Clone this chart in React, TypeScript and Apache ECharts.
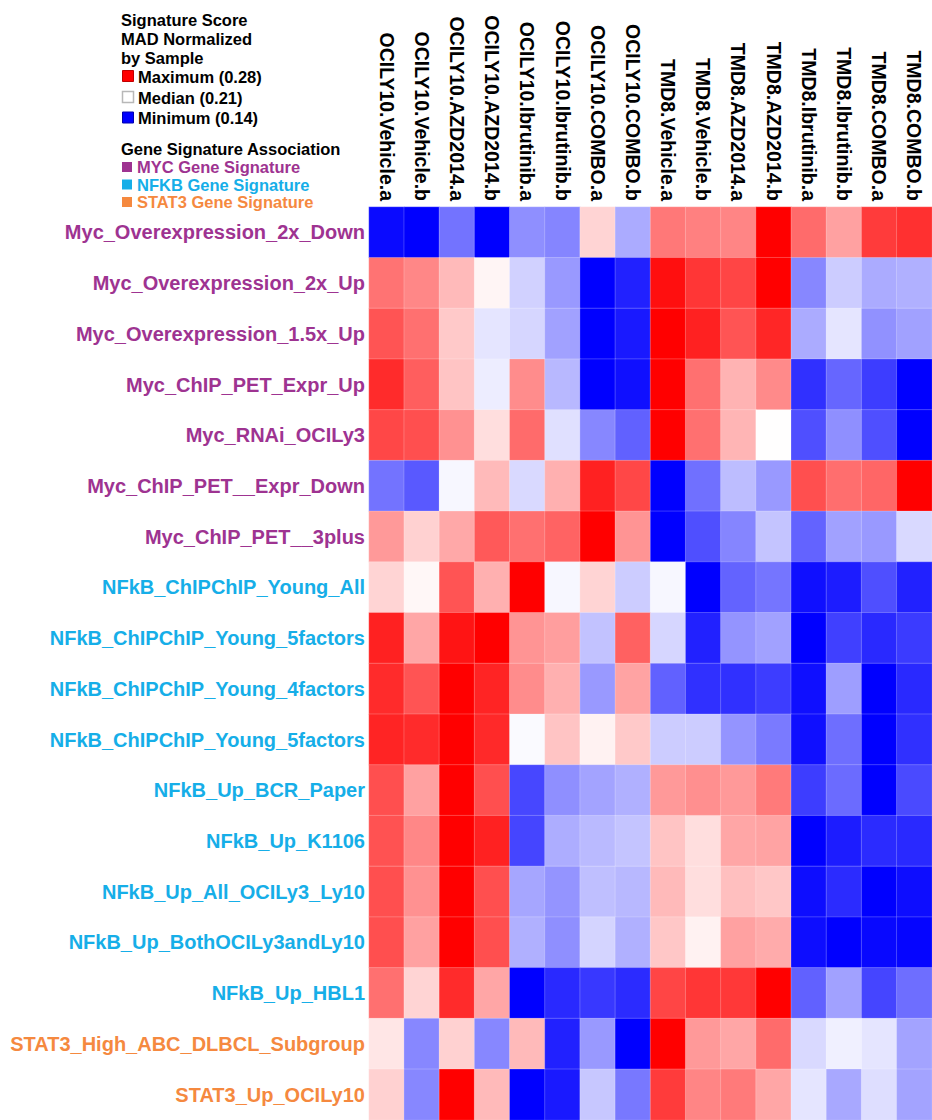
import React, { useEffect, useRef } from 'react';
import * as echarts from 'echarts';

const samples = [
  'OCILY10.Vehicle.a', 'OCILY10.Vehicle.b', 'OCILY10.AZD2014.a', 'OCILY10.AZD2014.b',
  'OCILY10.Ibrutinib.a', 'OCILY10.Ibrutinib.b', 'OCILY10.COMBO.a', 'OCILY10.COMBO.b',
  'TMD8.Vehicle.a', 'TMD8.Vehicle.b', 'TMD8.AZD2014.a', 'TMD8.AZD2014.b',
  'TMD8.Ibrutinib.a', 'TMD8.Ibrutinib.b', 'TMD8.COMBO.a', 'TMD8.COMBO.b',
];

const signatures = [
  'Myc_Overexpression_2x_Down', 'Myc_Overexpression_2x_Up', 'Myc_Overexpression_1.5x_Up',
  'Myc_ChIP_PET_Expr_Up', 'Myc_RNAi_OCILy3', 'Myc_ChIP_PET__Expr_Down', 'Myc_ChIP_PET__3plus',
  'NFkB_ChIPChIP_Young_All', 'NFkB_ChIPChIP_Young_5factors', 'NFkB_ChIPChIP_Young_4factors',
  'NFkB_ChIPChIP_Young_5factors', 'NFkB_Up_BCR_Paper', 'NFkB_Up_K1106', 'NFkB_Up_All_OCILy3_Ly10',
  'NFkB_Up_BothOCILy3andLy10', 'NFkB_Up_HBL1', 'STAT3_High_ABC_DLBCL_Subgroup', 'STAT3_Up_OCILy10',
];

const signatureGroups = [
  'MYC', 'MYC', 'MYC', 'MYC', 'MYC', 'MYC', 'MYC',
  'NFKB', 'NFKB', 'NFKB', 'NFKB', 'NFKB', 'NFKB', 'NFKB', 'NFKB', 'NFKB',
  'STAT3', 'STAT3',
];

const groupNames = ['MYC', 'NFKB', 'STAT3'];
const groupColors = ['#9e3391', '#16aee8', '#f5893f'];
const groupLegendLabels = ['MYC Gene Signature', 'NFKB Gene Signature', 'STAT3 Gene Signature'];

const scoreMin = 0.14;
const scoreMedian = 0.21;
const scoreMax = 0.28;

const mycOver2xDown = [0.1428, 0.14, 0.1715, 0.14, 0.1792, 0.1764, 0.2219, 0.1869, 0.2471, 0.245, 0.2436, 0.28, 0.2506, 0.2359, 0.2639, 0.2667];
const mycOver2xUp = [0.2485, 0.2429, 0.2289, 0.2128, 0.1974, 0.182, 0.14, 0.1491, 0.2758, 0.2653, 0.2611, 0.28, 0.1771, 0.196, 0.1869, 0.1883];
const mycOver15xUp = [0.2569, 0.2492, 0.2247, 0.203, 0.1988, 0.1841, 0.14, 0.147, 0.28, 0.2709, 0.2569, 0.2695, 0.1869, 0.203, 0.1799, 0.1841];
const mycChipExprUp = [0.2681, 0.2541, 0.2261, 0.2051, 0.2415, 0.1904, 0.14, 0.1442, 0.28, 0.2492, 0.231, 0.2422, 0.1533, 0.168, 0.1568, 0.14];
const mycRnaiOciLy3 = [0.2604, 0.2583, 0.2401, 0.2191, 0.2506, 0.2016, 0.1771, 0.1666, 0.28, 0.2492, 0.2303, 0.2104, 0.1617, 0.1792, 0.1617, 0.14];
const mycChipExprDown = [0.1715, 0.1645, 0.2079, 0.2289, 0.1995, 0.2317, 0.2709, 0.2604, 0.14, 0.1708, 0.1918, 0.182, 0.2583, 0.2499, 0.252, 0.28];
const mycChip3plus = [0.238, 0.2226, 0.2338, 0.2555, 0.2492, 0.2527, 0.28, 0.2394, 0.14, 0.1617, 0.1764, 0.1939, 0.1673, 0.1841, 0.182, 0.1995];
const nfkbYoungAll = [0.2219, 0.2121, 0.2569, 0.2317, 0.28, 0.2079, 0.2219, 0.196, 0.2079, 0.14, 0.1673, 0.1722, 0.1442, 0.1477, 0.1617, 0.1491];
const nfkbYoung5factorsA = [0.2709, 0.2345, 0.2744, 0.28, 0.2394, 0.2366, 0.1932, 0.2534, 0.1988, 0.1491, 0.1806, 0.1841, 0.14, 0.1575, 0.1512, 0.1561];
const nfkbYoung4factors = [0.2681, 0.2569, 0.28, 0.2702, 0.2415, 0.2317, 0.182, 0.2352, 0.1666, 0.1533, 0.1533, 0.1568, 0.1442, 0.1834, 0.14, 0.1512];
const nfkbYoung5factorsB = [0.2702, 0.2681, 0.28, 0.2688, 0.2086, 0.2261, 0.2135, 0.2247, 0.196, 0.196, 0.1806, 0.1736, 0.1442, 0.1701, 0.14, 0.1533];
const nfkbUpBcrPaper = [0.2583, 0.2359, 0.28, 0.2583, 0.1596, 0.1792, 0.1848, 0.1883, 0.238, 0.2408, 0.238, 0.2464, 0.1568, 0.1694, 0.14, 0.1603];
const nfkbUpK1106 = [0.2576, 0.2429, 0.28, 0.2709, 0.1589, 0.1876, 0.1911, 0.1939, 0.2261, 0.2191, 0.2345, 0.2352, 0.14, 0.1477, 0.1519, 0.1512];
const nfkbUpAllOciLy3Ly10 = [0.2583, 0.2401, 0.28, 0.2583, 0.1855, 0.1806, 0.1925, 0.1904, 0.2289, 0.2191, 0.2275, 0.2254, 0.1435, 0.1519, 0.14, 0.1435];
const nfkbUpBoth = [0.2583, 0.2359, 0.28, 0.2583, 0.1883, 0.1792, 0.1981, 0.1883, 0.2254, 0.2135, 0.2359, 0.2331, 0.1435, 0.14, 0.1421, 0.1414];
const nfkbUpHbl1 = [0.2492, 0.2219, 0.2681, 0.2345, 0.14, 0.1512, 0.1554, 0.1519, 0.2611, 0.2653, 0.2646, 0.28, 0.1666, 0.1841, 0.1589, 0.1701];
const stat3HighAbc = [0.217, 0.1771, 0.2226, 0.1771, 0.2289, 0.1491, 0.182, 0.14, 0.28, 0.238, 0.2345, 0.2506, 0.1995, 0.2058, 0.203, 0.1848];
const stat3UpOciLy10 = [0.2226, 0.1771, 0.28, 0.2289, 0.14, 0.147, 0.1946, 0.1729, 0.2639, 0.2436, 0.2464, 0.2345, 0.203, 0.1862, 0.2009, 0.1848];

const scoreRows = [
  mycOver2xDown, mycOver2xUp, mycOver15xUp, mycChipExprUp, mycRnaiOciLy3, mycChipExprDown, mycChip3plus,
  nfkbYoungAll, nfkbYoung5factorsA, nfkbYoung4factors, nfkbYoung5factorsB, nfkbUpBcrPaper, nfkbUpK1106,
  nfkbUpAllOciLy3Ly10, nfkbUpBoth, nfkbUpHbl1, stat3HighAbc, stat3UpOciLy10,
];

const FONT = '"Liberation Sans", Arial, sans-serif';

export default function App() {
  const ref = useRef<HTMLDivElement>(null);

  useEffect(() => {
    if (!ref.current) return;
    const chart = echarts.init(ref.current, undefined, { renderer: 'svg' });

    const data: [number, number, number][] = [];
    scoreRows.forEach((row, r) => row.forEach((v, c) => data.push([c, r, v])));

    const legendFont = `bold 16.5px ${FONT}`;
    const graphics: any[] = [
      { type: 'text', x: 121, y: 20, style: { text: 'Signature Score', font: legendFont, fill: '#000', verticalAlign: 'middle' } },
      { type: 'text', x: 121, y: 39, style: { text: 'MAD Normalized', font: legendFont, fill: '#000', verticalAlign: 'middle' } },
      { type: 'text', x: 121, y: 58, style: { text: 'by Sample', font: legendFont, fill: '#000', verticalAlign: 'middle' } },
      { type: 'rect', shape: { x: 122.5, y: 70.5, width: 11, height: 11 }, style: { fill: '#ff0000', stroke: '#c00000', lineWidth: 1 } },
      { type: 'text', x: 138, y: 77, style: { text: `Maximum (${scoreMax.toFixed(2)})`, font: legendFont, fill: '#000', verticalAlign: 'middle' } },
      { type: 'rect', shape: { x: 122.5, y: 91.5, width: 11, height: 11 }, style: { fill: '#ffffff', stroke: '#b8b8b8', lineWidth: 1.5 } },
      { type: 'text', x: 138, y: 97.5, style: { text: `Median (${scoreMedian.toFixed(2)})`, font: legendFont, fill: '#000', verticalAlign: 'middle' } },
      { type: 'rect', shape: { x: 122.5, y: 112, width: 11, height: 11 }, style: { fill: '#0000ff', stroke: '#0000b0', lineWidth: 1 } },
      { type: 'text', x: 138, y: 118, style: { text: `Minimum (${scoreMin.toFixed(2)})`, font: legendFont, fill: '#000', verticalAlign: 'middle' } },
      { type: 'text', x: 121, y: 148.5, style: { text: 'Gene Signature Association', font: legendFont, fill: '#000', verticalAlign: 'middle' } },
    ];
    groupNames.forEach((g, i) => {
      const yc = 167 + i * 17.5;
      graphics.push({ type: 'rect', shape: { x: 122, y: yc - 5, width: 10, height: 10 }, style: { fill: groupColors[i] } });
      graphics.push({ type: 'text', x: 137, y: yc, style: { text: groupLegendLabels[i], font: legendFont, fill: groupColors[i], verticalAlign: 'middle' } });
    });

    chart.setOption({
      animation: false,
      backgroundColor: '#ffffff',
      grid: { left: 369, top: 207, width: 563, height: 920, containLabel: false },
      xAxis: {
        type: 'category',
        position: 'top',
        data: samples,
        axisLine: { show: false },
        axisTick: { show: false },
        splitLine: { show: false },
        axisLabel: {
          interval: 0,
          rotate: 90,
          margin: 6,
          color: '#000',
          fontSize: 19.5,
          fontWeight: 'bold',
          fontFamily: FONT,
        },
      },
      yAxis: {
        type: 'category',
        inverse: true,
        data: signatures,
        axisLine: { show: false },
        axisTick: { show: false },
        splitLine: { show: false },
        axisLabel: {
          interval: 0,
          margin: 4,
          fontSize: 20,
          fontWeight: 'bold',
          fontFamily: FONT,
          padding: [0, 0, 9, 0],
          color: (_v: any, idx: number) => groupColors[groupNames.indexOf(signatureGroups[idx])],
        },
      },
      visualMap: {
        show: false,
        type: 'continuous',
        min: scoreMin,
        max: scoreMax,
        dimension: 2,
        inRange: { color: ['#0000ff', '#ffffff', '#ff0000'] },
      },
      series: [
        {
          type: 'heatmap',
          data,
          itemStyle: { borderColor: 'rgba(255,255,255,0.22)', borderWidth: 1 },
          emphasis: { disabled: true },
        },
      ],
      graphic: graphics,
    });

    return () => chart.dispose();
  }, []);

  return <div ref={ref} style={{ position: 'absolute', left: 0, top: 0, width: 932, height: 1120 }} />;
}
